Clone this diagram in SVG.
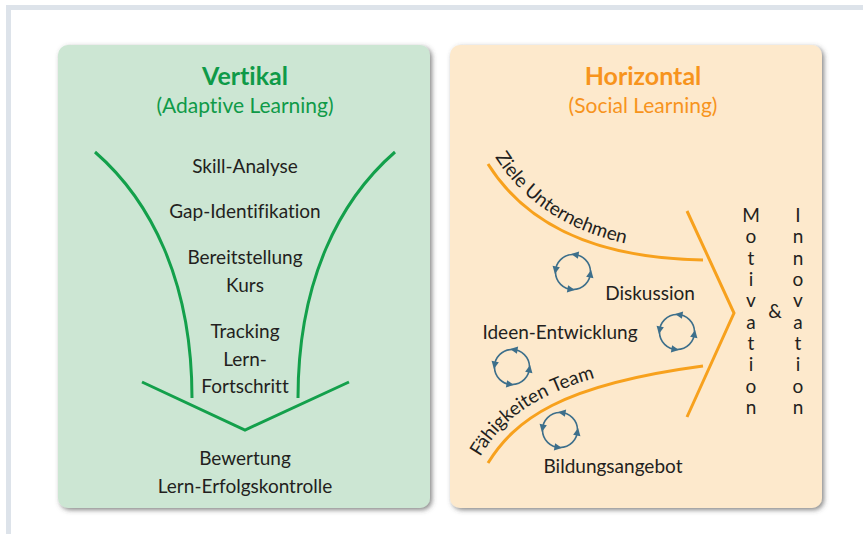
<svg xmlns="http://www.w3.org/2000/svg" width="863" height="534" viewBox="0 0 863 534">
<style>
text{font-variant-ligatures:none;font-feature-settings:"liga" 0,"dlig" 0}
.t{font-family:Lato,"Open Sans","Liberation Sans",sans-serif;fill:#231f20;font-size:19px;text-anchor:middle}
.tg{font-family:Lato,"Open Sans","Liberation Sans",sans-serif;fill:#0f9a48;text-anchor:middle}
.to{font-family:Lato,"Open Sans","Liberation Sans",sans-serif;fill:#f7941d;text-anchor:middle}
.h{font-size:25px;font-weight:bold}
.s{font-size:21px}
.gl{fill:none;stroke:#13a04b;stroke-width:3}
.ol{fill:none;stroke:#f7a11d;stroke-width:3}
.cy{fill:none;stroke:#3d6f8b;stroke-width:1.6}
.ar{fill:#3d6f8b}
</style>
<defs>
<filter id="sh" x="-10%" y="-10%" width="120%" height="120%">
<feDropShadow dx="2" dy="2" stdDeviation="2.5" flood-color="#444" flood-opacity="0.65"/>
</filter>
<g id="cycle">
<circle class="cy" r="17.5"/>
<polygon class="ar" points="13.8,2.5 21.2,2.5 17.5,-5" transform="rotate(10)"/>
<polygon class="ar" points="13.8,2.5 21.2,2.5 17.5,-5" transform="rotate(100)"/>
<polygon class="ar" points="13.8,2.5 21.2,2.5 17.5,-5" transform="rotate(190)"/>
<polygon class="ar" points="13.8,2.5 21.2,2.5 17.5,-5" transform="rotate(280)"/>
</g>
<path id="p-ziele" d="M495,157 C528,209 587,250 703,252"/>
<path id="p-faeh" d="M480,457 C507,412 550,376 703,358"/>
</defs>
<rect x="0" y="0" width="863" height="534" fill="#fff"/>
<rect x="8.5" y="7.5" width="900" height="600" fill="#fff" stroke="#dde3ea" stroke-width="5"/>

<g id="panel-vertikal">
<rect x="58" y="45" width="372" height="463" rx="10" fill="#cce6d3" filter="url(#sh)"/>
<text class="tg h" x="245" y="85">Vertikal</text>
<text class="tg s" x="245" y="113">(Adaptive Learning)</text>
</g>
<g id="panel-horizontal">
<rect x="450" y="45" width="372" height="463" rx="10" fill="#fde9cc" filter="url(#sh)"/>
<text class="to h" x="643" y="85">Horizontal</text>
<text class="to s" x="643" y="113">(Social Learning)</text>
</g>

<g id="connectors">
<path class="gl" d="M95,152 C150,200 192,280 192,398"/>
<path class="gl" d="M395,152 C340,200 298,280 298,398"/>
<path class="gl" d="M142,382 L245,430 L349,382"/>
<path class="ol" d="M488,164 C520,215 580,258 703,260"/>
<path class="ol" d="M488,463 C515,420 560,385 703,366"/>
<path class="ol" d="M687,211 L734,313 L687,417"/>
</g>

<g id="node-skill"><text class="t" x="245" y="173">Skill-Analyse</text></g>
<g id="node-gap"><text class="t" x="245" y="218">Gap-Identifikation</text></g>
<g id="node-bereit"><text class="t" x="245" y="264">Bereitstellung</text><text class="t" x="245" y="292">Kurs</text></g>
<g id="node-tracking"><text class="t" x="245" y="338">Tracking</text><text class="t" x="245" y="366">Lern-</text><text class="t" x="245" y="393">Fortschritt</text></g>
<g id="node-bewertung"><text class="t" x="245" y="465">Bewertung</text><text class="t" x="245" y="493">Lern-Erfolgskontrolle</text></g>

<g id="label-ziele"><text class="t" style="text-anchor:start"><textPath href="#p-ziele">Ziele Unternehmen</textPath></text></g>
<g id="label-faehigkeiten"><text class="t" style="text-anchor:start"><textPath href="#p-faeh">Fähigkeiten Team</textPath></text></g>

<g id="node-diskussion"><text class="t" x="650" y="300">Diskussion</text></g>
<g id="node-ideen"><text class="t" x="560" y="339">Ideen-Entwicklung</text></g>
<g id="node-bildung"><text class="t" x="613" y="473">Bildungsangebot</text></g>

<g id="cycles">
<use href="#cycle" x="573" y="272"/>
<use href="#cycle" x="677" y="332"/>
<use href="#cycle" x="512" y="367"/>
<use href="#cycle" x="560" y="430"/>
</g>

<g id="node-motivation">
<text class="t" x="751" y="222">M</text>
<text class="t" x="751" y="243.3">o</text>
<text class="t" x="751" y="264.7">t</text>
<text class="t" x="751" y="286">i</text>
<text class="t" x="751" y="307.3">v</text>
<text class="t" x="751" y="328.7">a</text>
<text class="t" x="751" y="350">t</text>
<text class="t" x="751" y="371.3">i</text>
<text class="t" x="751" y="392.7">o</text>
<text class="t" x="751" y="414">n</text>
</g>
<g id="node-und"><text class="t" x="775" y="318">&amp;</text></g>
<g id="node-innovation">
<text class="t" x="798" y="222">I</text>
<text class="t" x="798" y="243.3">n</text>
<text class="t" x="798" y="264.7">n</text>
<text class="t" x="798" y="286">o</text>
<text class="t" x="798" y="307.3">v</text>
<text class="t" x="798" y="328.7">a</text>
<text class="t" x="798" y="350">t</text>
<text class="t" x="798" y="371.3">i</text>
<text class="t" x="798" y="392.7">o</text>
<text class="t" x="798" y="414">n</text>
</g>
</svg>
